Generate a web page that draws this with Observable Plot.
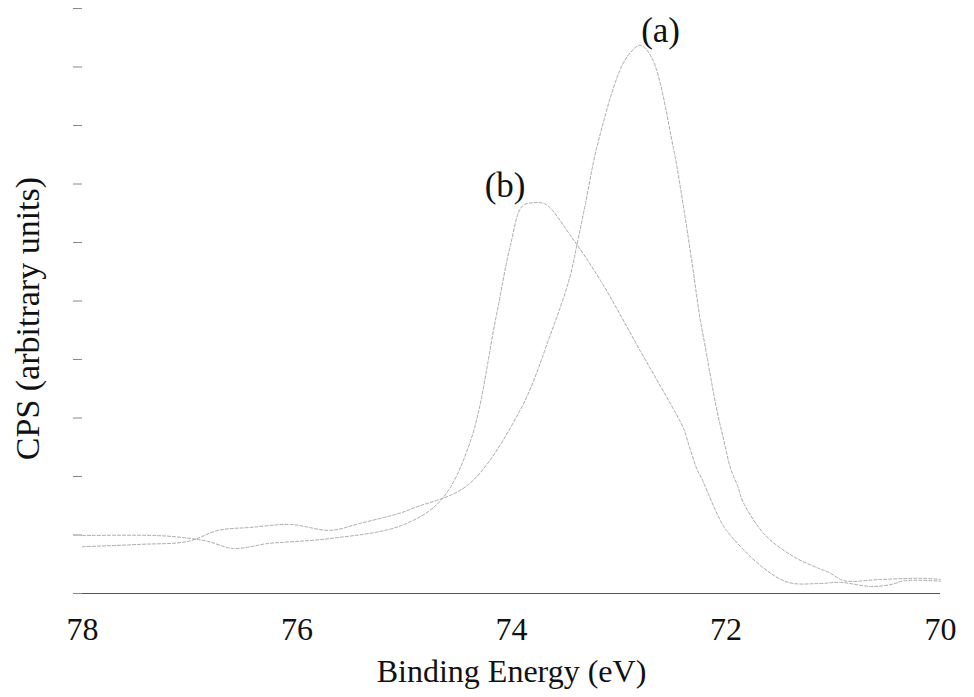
<!DOCTYPE html>
<html>
<head>
<meta charset="utf-8">
<script src="https://cdn.jsdelivr.net/npm/d3@7"></script>
<script src="https://cdn.jsdelivr.net/npm/@observablehq/plot@0.6"></script>
<style>
  html, body { margin: 0; padding: 0; background: #fff; }
  #chart { width: 974px; height: 697px; }
</style>
</head>
<body>
<div id="chart"></div>
<script>
// Binding energy (eV) and CPS (arbitrary units) for spectrum (a)
const energyA = [78.00, 77.46, 77.02, 76.73, 76.43, 76.06, 75.69, 75.41, 75.03, 74.90, 74.41, 73.92, 73.64, 73.46, 73.38, 73.31, 73.20, 72.99, 72.89, 72.80, 72.69, 72.49, 72.40, 72.31, 72.25, 72.21, 72.08, 72.02, 71.96, 71.89, 71.84, 71.63, 71.36, 71.15, 71.04, 70.90, 70.56, 70.19, 70.00];
const cpsA    = [0.80, 0.84, 0.89, 1.08, 1.13, 1.18, 1.08, 1.20, 1.38, 1.47, 1.85, 3.13, 4.41, 5.38, 6.05, 6.67, 7.66, 8.94, 9.25, 9.37, 9.15, 7.61, 6.65, 5.57, 4.79, 4.38, 3.09, 2.62, 2.15, 1.83, 1.56, 0.99, 0.62, 0.44, 0.36, 0.22, 0.24, 0.26, 0.24];

// Binding energy (eV) and CPS (arbitrary units) for spectrum (b)
const energyB = [78.00, 77.30, 76.99, 76.83, 76.60, 76.43, 76.29, 75.69, 75.03, 74.66, 74.38, 74.15, 74.01, 73.90, 73.79, 73.68, 73.45, 73.17, 72.80, 72.39, 72.37, 72.27, 72.23, 72.08, 72.00, 71.68, 71.42, 71.14, 70.93, 70.65, 70.47, 70.33, 70.00];
const cpsB    = [0.99, 0.99, 0.94, 0.89, 0.77, 0.80, 0.85, 0.94, 1.16, 1.59, 2.62, 4.67, 5.95, 6.62, 6.68, 6.65, 6.12, 5.35, 4.15, 2.80, 2.68, 2.12, 1.98, 1.35, 1.09, 0.48, 0.19, 0.17, 0.19, 0.12, 0.15, 0.22, 0.21];

const xTicks = [78, 76, 74, 72, 70];
const yTicks = [0, 1, 2, 3, 4, 5, 6, 7, 8, 9, 10];

const xLabel = "Binding Energy (eV)";
const yLabel = "CPS (arbitrary units)";
const curveLabels = ["(a)", "(b)"];
const labelEnergy = [72.61, 74.06];
const labelCps = [9.62, 6.97];

const seriesA = energyA.map((e, i) => ({energy: e, cps: cpsA[i]}));
const seriesB = energyB.map((e, i) => ({energy: e, cps: cpsB[i]}));
const labelData = curveLabels.map((t, i) => ({text: t, energy: labelEnergy[i], cps: labelCps[i]}));

const chart = Plot.plot({
  width: 974,
  height: 697,
  marginTop: 8,
  marginBottom: 104,
  marginLeft: 82,
  marginRight: 34,
  style: {fontFamily: "'Liberation Serif', 'Times New Roman', serif", fontSize: "32px", color: "#111", background: "#fff"},
  x: {domain: [78, 70], label: null},
  y: {domain: [0, 10], label: null},
  marks: [
    Plot.axisX({
      ticks: xTicks,
      tickSize: 0,
      tickPadding: 24,
      tickFormat: d => String(d),
      fontSize: 32,
      label: xLabel,
      labelAnchor: "center",
      labelArrow: "none",
      labelOffset: 88
    }),
    Plot.axisY({
      ticks: yTicks,
      tickSize: 9,
      tickFormat: () => "",
      stroke: "#888",
      label: null
    }),
    Plot.text([yLabel], {
      frameAnchor: "left",
      y: [4.7],
      text: d => d,
      rotate: -90,
      dx: -54,
      textAnchor: "middle",
      lineAnchor: "middle",
      fontSize: 34,
      fill: "#111"
    }),
    Plot.ruleY([0], {stroke: "#555", strokeWidth: 1}),
    Plot.line(seriesA, {x: "energy", y: "cps", curve: "catmull-rom", stroke: "#aaa", strokeWidth: 1, strokeDasharray: "3,2"}),
    Plot.line(seriesB, {x: "energy", y: "cps", curve: "catmull-rom", stroke: "#aaa", strokeWidth: 1, strokeDasharray: "3,2"}),
    Plot.text(labelData, {x: "energy", y: "cps", text: "text", fill: "#111", fontSize: 35})
  ]
});
document.getElementById("chart").appendChild(chart);
</script>
</body>
</html>
